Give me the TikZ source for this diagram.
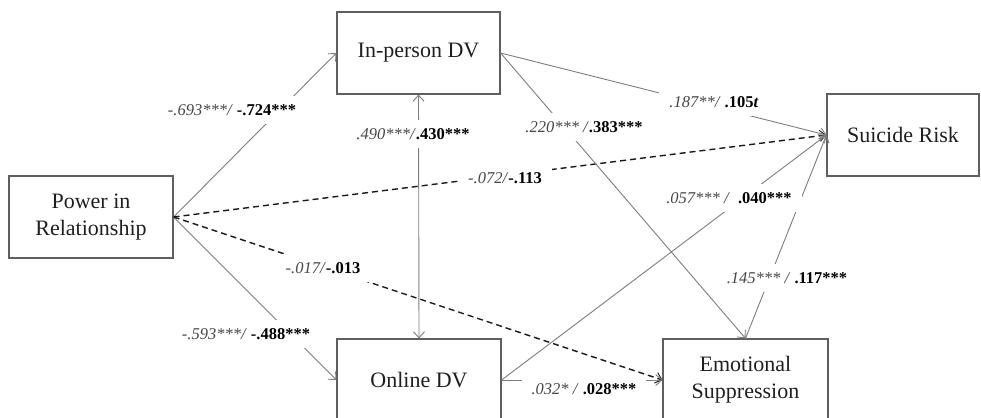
\documentclass[tikz,border=0pt]{standalone}
\usepackage{fontspec}
\setmainfont{Liberation Serif}
\usetikzlibrary{arrows.meta}

% coefficient pair: italic (grey) estimate, bold estimate
\newcommand\coefit[1]{\textcolor{black!72}{\textit{#1}}}
\newcommand\coefbf[1]{\textbf{#1}}

\begin{document}
\begin{tikzpicture}[x=1pt,y=-1pt,
  box/.style={draw={rgb,255:red,95;green,95;blue,95}, line width=1.2pt,
    minimum height=82pt, align=center, inner sep=0pt, text=black!88,
    font=\fontsize{22}{27}\selectfont},
  lnk/.style={draw={rgb,255:red,125;green,125;blue,125}, line width=0.9pt, -{Straight Barb[length=6pt,width=11pt]}},
  dlnk/.style={draw=black!90, line width=1.4pt, dash pattern=on 6pt off 4pt, -{Straight Barb[length=6pt,width=11pt,line width=0.9pt]}},
  lbl/.style={fill=white, inner xsep=10pt, inner ysep=8pt, font=\fontsize{16.5}{18}\selectfont}
]
\useasboundingbox (0,0) rectangle (981,417);
\clip (0,0) rectangle (981,417);

% variables
\node[box, minimum width=164pt] (pow) at (91,217) {Power in\\Relationship};
\node[box, minimum width=163pt] (inp) at (418.5,53) {In-person DV};
\node[box, minimum width=152pt] (sui) at (903,135) {Suicide Risk};
\node[box, minimum width=164pt] (onl) at (419,380) {Online DV};
\node[box, minimum width=165pt] (emo) at (745.5,380) {Emotional\\Suppression};

% paths
\draw[lnk] (pow.east) -- (inp.west);
\draw[lnk] (pow.east) -- (onl.west);
\draw[lnk, {Straight Barb[length=6pt,width=11pt]}-{Straight Barb[length=6pt,width=11pt]}] (inp.south) -- (onl.north);
\draw[dlnk] (pow.east) -- (sui.west);
\draw[dlnk] (pow.east) -- (emo.west);
\draw[lnk] (inp.east) -- (sui.west);
\draw[lnk] (inp.east) -- (emo.north);
\draw[lnk] (onl.east) -- (sui.west);
\draw[lnk] (onl.east) -- (emo.west);
\draw[lnk] (emo.north) -- (sui.west);

% coefficients
\node[lbl] (c1) at (232,110) {\coefit{-.693***/} \coefbf{-.724***}};
\node[lbl] (c2) at (413,134) {\coefit{.490***/}\coefbf{.430***}};
\node[lbl] (c3) at (505,178) {\coefit{-.072/}\coefbf{-.113}};
\node[lbl] (c4) at (714,102) {\coefit{.187**/} \coefbf{.105\textit{t}}};
\node[lbl] (c5) at (584,127) {\coefit{.220*** /}\coefbf{.383***}};
\node[lbl] (c6) at (729,198) {\coefit{.057*** /}\ \ \coefbf{.040***}};
\node[lbl] (c7) at (787,278) {\coefit{.145*** /} \coefbf{.117***}};
\node[lbl] (c8) at (323,268) {\coefit{-.017/}\coefbf{-.013}};
\node[lbl] (c9) at (246,334) {\coefit{-.593***/} \coefbf{-.488***}};
\node[lbl] (c10) at (584,389) {\coefit{.032* /} \coefbf{.028***}};
\end{tikzpicture}
\end{document}
